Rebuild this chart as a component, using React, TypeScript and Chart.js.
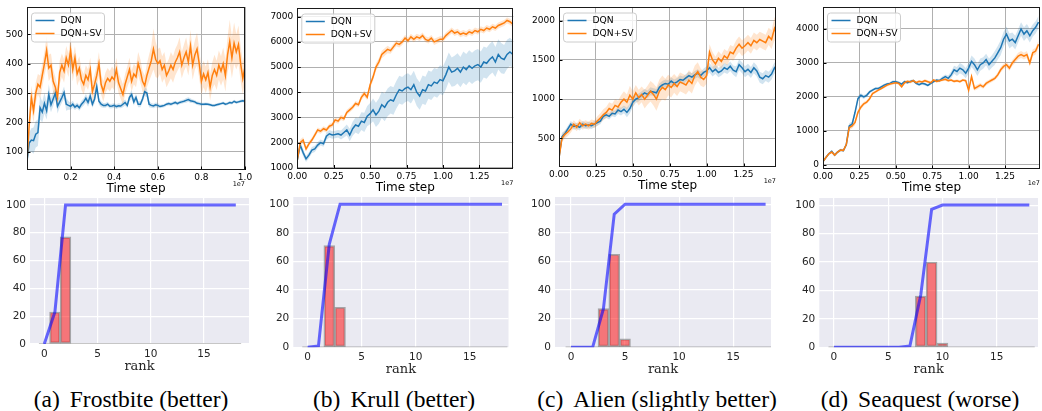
import React, { useEffect, useRef } from "react";
import { Chart, registerables } from "chart.js";

Chart.register(...registerables);

// ---------------- DATA ----------------
// x sample spacing (units of 1e7 time steps)
const FROST_STEP = 0.01;
const LONG_STEP = 0.02;

// (a) Frostbite, x = 0.00 .. 1.00
const FROST_DQN = [
  70, 130, 140, 138, 160, 165, 250, 235, 265, 240,
  295, 260, 280, 300, 255, 270, 285, 302, 262, 258,
  255, 262, 252, 258, 250, 262, 270, 282, 268, 290,
  262, 280, 322, 272, 262, 258, 258, 262, 255, 256,
  258, 254, 257, 256, 262, 268, 258, 285, 295, 270,
  285, 262, 262, 280, 305, 300, 262, 258, 256, 260,
  258, 254, 256, 258, 262, 264, 262, 265, 268, 264,
  268, 270, 272, 275, 278, 274, 272, 270, 265, 264,
  262, 262, 263, 262, 260, 258, 258, 260, 262, 264,
  266, 262, 264, 268, 266, 272, 268, 270, 272, 274,
  272,
];
const FROST_DQN_SD = [
  20, 35, 40, 45, 45, 45, 40, 35, 35, 30,
  35, 25, 25, 20, 25, 18, 18, 20, 22, 15,
  12, 12, 10, 10, 10, 12, 12, 15, 15, 18,
  12, 15, 20, 12, 10, 8, 8, 8, 8, 8,
  8, 8, 8, 8, 10, 10, 10, 12, 15, 12,
  12, 10, 10, 12, 15, 15, 10, 8, 8, 8,
  8, 6, 6, 6, 6, 6, 6, 6, 6, 6,
  6, 6, 6, 8, 8, 8, 6, 6, 6, 6,
  5, 5, 5, 5, 5, 5, 5, 5, 5, 5,
  5, 5, 5, 5, 5, 5, 5, 5, 5, 5,
  5,
];
const FROST_SV = [
  70, 190, 285, 240, 300, 330, 320, 360, 400, 445,
  385, 395, 340, 320, 285, 370, 395, 375, 420, 395,
  445, 380, 420, 365, 385, 345, 330, 360, 345, 380,
  305, 330, 360, 400, 330, 305, 335, 350, 340, 355,
  345, 380, 335, 315, 295, 330, 355, 380, 340, 365,
  355, 400, 375, 340, 325, 360, 385, 410, 450, 415,
  400, 410, 380, 395, 360, 375, 395, 380, 405, 420,
  440, 395, 420, 440, 405, 460, 395, 430, 450, 400,
  340, 365, 345, 370, 320, 360, 380, 360, 395, 375,
  400, 360, 430, 475, 420, 470, 440, 465, 400, 350,
  390,
];
const FROST_SV_SD = [
  10, 30, 40, 40, 35, 35, 40, 40, 40, 50,
  45, 40, 40, 35, 35, 40, 40, 40, 40, 40,
  45, 40, 40, 40, 40, 35, 35, 35, 35, 40,
  35, 35, 35, 40, 35, 35, 35, 35, 35, 35,
  35, 40, 35, 35, 35, 35, 35, 40, 35, 35,
  35, 40, 40, 35, 35, 40, 45, 50, 70, 60,
  50, 45, 45, 45, 40, 40, 45, 45, 45, 45,
  50, 45, 45, 50, 45, 55, 50, 50, 55, 50,
  45, 45, 45, 45, 45, 45, 50, 50, 50, 50,
  55, 55, 60, 75, 70, 70, 60, 65, 60, 55,
  50,
];

// (b) Krull, x = 0.00 .. 1.48
const KRULL_DQN = [
  1300, 1900, 1600, 1350, 1500, 1700, 1750, 1900, 2000, 1950,
  2250, 2350, 2300, 2320, 2350, 2300, 2400, 2500, 2300, 2550,
  2700, 2650, 2850, 2800, 3050, 3150, 3300, 3100, 3250, 3500,
  3400, 3600, 3700, 3650, 3900, 4100, 4050, 4150, 4200, 4100,
  4300, 4000, 3850, 4100, 4050, 4300, 4250, 4400, 4350, 4500,
  4450, 4700, 5000, 4800, 4850, 4950, 4800, 5000, 4900, 5050,
  4950, 5050, 5100, 5000, 5200, 5150, 5300, 5400, 5200, 5500,
  5350, 5300, 5500, 5600, 5500,
];
const KRULL_DQN_SD = [
  50, 150, 150, 120, 120, 120, 120, 120, 120, 120,
  150, 150, 150, 150, 150, 180, 200, 220, 250, 280,
  300, 320, 350, 380, 400, 420, 450, 480, 500, 520,
  550, 550, 550, 550, 550, 550, 550, 550, 550, 550,
  550, 550, 550, 560, 560, 560, 560, 560, 570, 570,
  570, 580, 580, 580, 600, 600, 600, 620, 620, 620,
  620, 620, 620, 620, 620, 620, 620, 620, 600, 600,
  600, 580, 580, 560, 550,
];
const KRULL_SV = [
  1300, 2000, 2100, 1750, 1950, 2100, 2300, 2500, 2450, 2550,
  2500, 2650, 2700, 2900, 2850, 3000, 2950, 3200, 3300, 3400,
  3550, 3500, 3800, 3950, 3800, 4300, 4600, 5000, 5200, 5500,
  5600, 5700, 5650, 5800, 5950, 5900, 6000, 6150, 6050, 6200,
  6100, 6200, 6150, 6250, 6100, 6050, 6150, 6000, 6050, 6100,
  6100, 6250, 6350, 6450, 6350, 6400, 6300, 6350, 6300, 6400,
  6350, 6450, 6400, 6500, 6450, 6550, 6500, 6600, 6550, 6650,
  6700, 6750, 6850, 6800, 6700,
];
const KRULL_SV_SD = [
  50, 120, 120, 100, 100, 100, 100, 100, 100, 100,
  100, 100, 100, 100, 100, 100, 100, 100, 100, 100,
  100, 100, 120, 120, 120, 130, 150, 150, 150, 150,
  150, 150, 120, 120, 120, 120, 120, 120, 120, 120,
  120, 120, 120, 120, 120, 120, 120, 120, 120, 120,
  120, 120, 120, 120, 120, 120, 120, 120, 120, 120,
  120, 120, 120, 120, 120, 120, 120, 120, 120, 120,
  120, 120, 120, 120, 120,
];

// (c) Alien, x = 0.00 .. 1.48
const ALIEN_DQN = [
  250, 520, 560, 620, 680, 650, 660, 640, 680, 660,
  670, 660, 680, 700, 720, 780, 800, 780, 820, 810,
  860, 840, 870, 830, 880, 960, 1000, 1020, 1050, 1080,
  1060, 1100, 1090, 1080, 1150, 1180, 1200, 1190, 1230, 1200,
  1220, 1250, 1240, 1270, 1300, 1280, 1310, 1330, 1300, 1340,
  1360, 1400, 1350, 1380, 1340, 1360, 1400, 1380, 1420, 1370,
  1350, 1440, 1400, 1350, 1380, 1340, 1400, 1360, 1280, 1260,
  1300, 1280, 1320, 1400, 1350,
];
const ALIEN_DQN_SD = [
  30, 50, 40, 40, 40, 40, 40, 40, 40, 40,
  40, 40, 40, 40, 40, 40, 40, 40, 40, 40,
  50, 50, 50, 60, 60, 60, 50, 50, 50, 50,
  50, 50, 50, 50, 50, 50, 50, 50, 50, 50,
  50, 50, 50, 50, 50, 50, 50, 50, 50, 50,
  60, 60, 60, 60, 60, 60, 60, 60, 60, 60,
  70, 70, 70, 70, 70, 70, 70, 70, 70, 70,
  70, 70, 70, 70, 70,
];
const ALIEN_SV = [
  250, 500, 550, 580, 620, 680, 640, 700, 660, 680,
  660, 690, 680, 720, 760, 800, 830, 880, 860, 920,
  900, 960, 1000, 960, 1050, 1000, 1080, 1020, 1060, 1000,
  1050, 1100, 1060, 1000, 1100, 1150, 1120, 1180, 1150, 1200,
  1160, 1220, 1200, 1180, 1240, 1200, 1300, 1350, 1280, 1250,
  1300, 1600, 1500, 1450, 1520, 1480, 1550, 1520, 1600, 1580,
  1650, 1700, 1650, 1680, 1720, 1680, 1750, 1720, 1760, 1740,
  1720, 1800, 1760, 1900, 1800,
];
const ALIEN_SV_SD = [
  30, 50, 50, 50, 50, 50, 50, 50, 50, 50,
  50, 50, 50, 60, 60, 70, 70, 80, 80, 80,
  80, 90, 100, 100, 120, 100, 100, 100, 100, 120,
  120, 130, 140, 150, 150, 150, 140, 130, 130, 120,
  120, 120, 120, 120, 130, 130, 130, 120, 110, 100,
  100, 100, 100, 90, 90, 90, 90, 90, 90, 90,
  100, 100, 100, 100, 100, 100, 100, 100, 100, 100,
  100, 110, 120, 150, 130,
];

// (d) Seaquest, x = 0.00 .. 1.48
const SEAQ_DQN = [
  100, 220, 330, 400, 290, 380, 440, 420, 600, 1150,
  1200, 1550, 1950, 2050, 2000, 2050, 2150, 2200, 2250, 2250,
  2300, 2350, 2380, 2400, 2450, 2450, 2420, 2380, 2450, 2420,
  2460, 2480, 2400, 2360, 2400, 2380, 2340, 2400, 2450, 2500,
  2480, 2550, 2600, 2550, 2650, 2800, 2750, 2850, 2800, 2700,
  2850, 3050, 2950, 2800, 2950, 3000, 3100, 2950, 3050, 3150,
  3300, 3450, 3700, 3850, 3650, 3700, 3600, 3800, 4000, 3850,
  3950, 3800, 3950, 4050, 4200,
];
const SEAQ_DQN_SD = [
  20, 30, 30, 40, 40, 40, 40, 40, 50, 80,
  80, 80, 80, 60, 60, 50, 50, 40, 40, 40,
  40, 40, 40, 40, 40, 40, 40, 40, 40, 40,
  40, 40, 40, 40, 40, 40, 40, 40, 40, 40,
  50, 60, 60, 80, 100, 120, 130, 150, 150, 150,
  160, 170, 180, 180, 180, 170, 170, 180, 180, 200,
  200, 220, 220, 220, 220, 200, 200, 200, 200, 200,
  200, 200, 180, 180, 180,
];
const SEAQ_SV = [
  100, 220, 330, 380, 290, 380, 440, 430, 600, 1100,
  1150, 1250, 1550, 1700, 1800, 1850, 1950, 2100, 2150, 2200,
  2250, 2300, 2350, 2380, 2400, 2420, 2400, 2300, 2420, 2460,
  2440, 2480, 2420, 2460, 2440, 2480, 2450, 2420, 2500, 2460,
  2480, 2500, 2520, 2480, 2500, 2460, 2480, 2450, 2500, 2480,
  2200, 2600, 2250, 2300, 2350, 2300, 2400, 2450, 2500, 2550,
  2650, 2800, 2900, 2950, 2850, 3000, 3100, 3200, 3250, 3200,
  3250, 3000, 3300, 3350, 3550,
];
const SEAQ_SV_SD = [
  20, 30, 30, 40, 40, 40, 40, 40, 50, 80,
  80, 80, 80, 70, 60, 50, 50, 40, 40, 40,
  40, 40, 40, 40, 40, 40, 40, 40, 40, 40,
  40, 40, 40, 40, 40, 40, 40, 40, 40, 40,
  40, 40, 40, 40, 40, 40, 40, 40, 40, 40,
  60, 70, 70, 70, 60, 60, 60, 60, 60, 60,
  70, 80, 80, 80, 80, 90, 90, 100, 100, 100,
  100, 100, 100, 100, 110,
];

// tick values / labels (top row)
const X_TICKS_FROST = [0.2, 0.4, 0.6, 0.8, 1.0];
const X_LABELS_FROST = ["0.2", "0.4", "0.6", "0.8", "1.0"];
const X_TICKS_LONG = [0, 0.25, 0.5, 0.75, 1.0, 1.25];
const X_LABELS_LONG = ["0.00", "0.25", "0.50", "0.75", "1.00", "1.25"];
const Y_TICKS_FROST = [100, 200, 300, 400, 500];
const Y_TICKS_KRULL = [1000, 2000, 3000, 4000, 5000, 6000, 7000];
const Y_TICKS_ALIEN = [500, 1000, 1500, 2000];
const Y_TICKS_SEAQ = [0, 1000, 2000, 3000, 4000];
const SERIES_NAMES = ["DQN", "DQN+SV"];

// bottom row: rank histograms (percent) and cumulative curves
const RANKS = [0, 1, 2, 3, 4, 5, 6, 7, 8, 9, 10, 11, 12, 13, 14, 15, 16, 17, 18];
const FROST_HIST = [0, 23, 77, 0, 0, 0, 0, 0, 0, 0, 0, 0, 0, 0, 0, 0, 0, 0, 0];
const FROST_CDF = [0, 23, 100, 100, 100, 100, 100, 100, 100, 100, 100, 100, 100, 100, 100, 100, 100, 100, 100];
const KRULL_HIST = [0, 0, 71, 28, 0, 0, 0, 0, 0, 0, 0, 0, 0, 0, 0, 0, 0, 0, 0];
const KRULL_CDF = [0, 1, 72, 100, 100, 100, 100, 100, 100, 100, 100, 100, 100, 100, 100, 100, 100, 100, 100];
const ALIEN_HIST = [0, 0, 0, 27, 65, 6, 0, 0, 0, 0, 0, 0, 0, 0, 0, 0, 0, 0, 0];
const ALIEN_CDF = [0, 0, 0, 27, 93, 100, 100, 100, 100, 100, 100, 100, 100, 100, 100, 100, 100, 100, 100];
const SEAQ_HIST = [0, 0, 0, 0, 0, 0, 0, 0, 36, 60, 3, 0, 0, 0, 0, 0, 0, 0, 0];
const SEAQ_CDF = [0, 0, 0, 0, 0, 0, 0, 1, 37, 97, 100, 100, 100, 100, 100, 100, 100, 100, 100];
const RANK_TICKS = [0, 5, 10, 15];
const PCT_TICKS = [0, 20, 40, 60, 80, 100];

const CAPTIONS = [
  ["(a)", "Frostbite (better)"],
  ["(b)", "Krull (better)"],
  ["(c)", "Alien (slightly better)"],
  ["(d)", "Seaquest (worse)"],
];

// ---------------- STYLE / LAYOUT ----------------
const BLUE = "#1f77b4";
const ORANGE = "#ff7f0e";
const SANS = "'DejaVu Sans'";

const TOP_PANELS = [
  { L: 27, R: 245, T: 7, B: 170, step: FROST_STEP, dqn: FROST_DQN, dqnSd: FROST_DQN_SD, sv: FROST_SV, svSd: FROST_SV_SD,
    yMin: 38, yMax: 593, yTicks: Y_TICKS_FROST, xMin: 0, xMax: 1.0, xTicks: X_TICKS_FROST, xLabels: X_LABELS_FROST },
  { L: 297.3, R: 513.3, T: 8, B: 168.5, step: LONG_STEP, dqn: KRULL_DQN, dqnSd: KRULL_DQN_SD, sv: KRULL_SV, svSd: KRULL_SV_SD,
    yMin: 970, yMax: 7345, yTicks: Y_TICKS_KRULL, xMin: 0, xMax: 1.483, xTicks: X_TICKS_LONG, xLabels: X_LABELS_LONG },
  { L: 559, R: 776, T: 7, B: 167, step: LONG_STEP, dqn: ALIEN_DQN, dqnSd: ALIEN_DQN_SD, sv: ALIEN_SV, svSd: ALIEN_SV_SD,
    yMin: 134, yMax: 2175, yTicks: Y_TICKS_ALIEN, xMin: 0, xMax: 1.47, xTicks: X_TICKS_LONG, xLabels: X_LABELS_LONG },
  { L: 823, R: 1040, T: 7, B: 169, step: LONG_STEP, dqn: SEAQ_DQN, dqnSd: SEAQ_DQN_SD, sv: SEAQ_SV, svSd: SEAQ_SV_SD,
    yMin: -118, yMax: 4647, yTicks: Y_TICKS_SEAQ, xMin: 0, xMax: 1.49, xTicks: X_TICKS_LONG, xLabels: X_LABELS_LONG },
];

const BOTTOM_PANELS = [
  { L: 30, R: 249, T: 198, B: 344, xMin: -1.34, xMax: 19.24, hist: FROST_HIST, cdf: FROST_CDF, cx: 131 },
  { L: 293.3, R: 508.5, T: 197, B: 347.3, xMin: -1.33, xMax: 18.6, hist: KRULL_HIST, cdf: KRULL_CDF, cx: 394 },
  { L: 555, R: 771, T: 197, B: 347.3, xMin: -1.48, xMax: 18.5, hist: ALIEN_HIST, cdf: ALIEN_CDF, cx: 657 },
  { L: 819.3, R: 1038, T: 198, B: 347.3, xMin: -1.35, xMax: 18.8, hist: SEAQ_HIST, cdf: SEAQ_CDF, cx: 920 },
];

function pts(vals: number[], step: number, sd?: number[], sign = 0) {
  return vals.map((v, i) => ({ x: i * step, y: sd ? v + sign * sd[i] : v }));
}

function topGeometry(p: any) {
  const cl = Math.floor(p.L) - 42;
  const cr = Math.min(1042, Math.ceil(p.R) + 12);
  const h = Math.ceil(p.B) + 32;
  return { left: cl, top: 0, width: cr - cl, height: h, yw: p.L - cl, xh: h - p.B, rp: cr - p.R };
}

function topConfig(p: any) {
  const g = topGeometry(p);
  const decor = {
    id: "topDecor",
    afterDraw(chart: any) {
      const { ctx, chartArea: a, scales } = chart;
      ctx.save();
      ctx.strokeStyle = "#000";
      ctx.lineWidth = 1;
      ctx.beginPath();
      for (const t of scales.y.ticks) {
        const y = Math.round(scales.y.getPixelForValue(t.value)) + 0.5;
        ctx.moveTo(a.left, y);
        ctx.lineTo(a.left + 3.5, y);
      }
      for (const t of scales.x.ticks) {
        const x = Math.round(scales.x.getPixelForValue(t.value)) + 0.5;
        ctx.moveTo(x, a.bottom);
        ctx.lineTo(x, a.bottom - 3.5);
      }
      ctx.stroke();
      ctx.strokeStyle = "#1a1a1a";
      ctx.strokeRect(Math.round(a.left) + 0.5, Math.round(a.top) + 0.5, Math.round(a.width) - 1, Math.round(a.height) - 1);
      // legend
      const bx = a.left + 4.5, by = a.top + 6, bw = 73, bh = 29;
      ctx.beginPath();
      ctx.roundRect(bx, by, bw, bh, 3);
      ctx.fillStyle = "rgba(255,255,255,0.8)";
      ctx.fill();
      ctx.strokeStyle = "#cccccc";
      ctx.lineWidth = 1;
      ctx.stroke();
      const cols = [BLUE, ORANGE];
      ctx.font = `9.2px ${SANS}`;
      ctx.textBaseline = "middle";
      ctx.textAlign = "left";
      SERIES_NAMES.forEach((name, i) => {
        const y = by + 7.5 + i * 13;
        ctx.strokeStyle = cols[i];
        ctx.lineWidth = 1.5;
        ctx.beginPath();
        ctx.moveTo(bx + 4, y);
        ctx.lineTo(bx + 23, y);
        ctx.stroke();
        ctx.fillStyle = "#000";
        ctx.fillText(name, bx + 29, y + 0.5);
      });
      // axis texts
      ctx.fillStyle = "#000";
      ctx.textAlign = "center";
      ctx.font = `12px ${SANS}`;
      ctx.fillText("Time step", (a.left + a.right) / 2, a.bottom + 19);
      ctx.textAlign = "right";
      ctx.font = `6.5px ${SANS}`;
      ctx.fillText("1e7", a.right, a.bottom + 14.5);
      ctx.restore();
    },
  };
  const band = { borderColor: "rgba(0,0,0,0)", borderWidth: 0, pointRadius: 0 };
  return {
    type: "line",
    data: {
      datasets: [
        { data: pts(p.sv, p.step), borderColor: ORANGE, borderWidth: 1.5, pointRadius: 0, fill: false, order: 0 },
        { data: pts(p.dqn, p.step), borderColor: BLUE, borderWidth: 1.5, pointRadius: 0, fill: false, order: 1 },
        { ...band, data: pts(p.sv, p.step, p.svSd, -1), fill: false, order: 2 },
        { ...band, data: pts(p.sv, p.step, p.svSd, 1), fill: "-1", backgroundColor: "rgba(255,127,14,0.2)", order: 3 },
        { ...band, data: pts(p.dqn, p.step, p.dqnSd, -1), fill: false, order: 4 },
        { ...band, data: pts(p.dqn, p.step, p.dqnSd, 1), fill: "-1", backgroundColor: "rgba(31,119,180,0.2)", order: 5 },
      ],
    },
    options: {
      responsive: false,
      animation: false,
      devicePixelRatio: 1,
      events: [],
      layout: { padding: { top: p.T, right: g.rp, left: 0, bottom: 0 } },
      plugins: { legend: { display: false }, tooltip: { enabled: false } },
      scales: {
        x: {
          type: "linear",
          min: p.xMin,
          max: p.xMax,
          border: { display: false },
          grid: { color: "#b0b0b0", lineWidth: 1, drawTicks: false },
          afterBuildTicks: (s: any) => { s.ticks = p.xTicks.map((v: number) => ({ value: v })); },
          afterFit: (s: any) => { s.height = g.xh; s.paddingLeft = 0; s.paddingRight = 0; },
          ticks: {
            autoSkip: false, maxRotation: 0, padding: 2.5, color: "#000",
            font: { family: SANS, size: 9 },
            callback: (_v: any, i: number) => p.xLabels[i],
          },
        },
        y: {
          type: "linear",
          min: p.yMin,
          max: p.yMax,
          border: { display: false },
          grid: { color: "#b0b0b0", lineWidth: 1, drawTicks: false },
          afterBuildTicks: (s: any) => { s.ticks = p.yTicks.map((v: number) => ({ value: v })); },
          afterFit: (s: any) => { s.width = g.yw; s.paddingTop = 0; s.paddingBottom = 0; },
          ticks: {
            autoSkip: false, padding: 4, color: "#000",
            font: { family: SANS, size: 9 },
            callback: (v: any) => String(v),
          },
        },
      },
    },
    plugins: [decor],
  };
}

function bottomGeometry(p: any) {
  const cl = Math.floor(p.L) - 36;
  const cr = Math.min(1042, Math.ceil(p.R) + 2);
  return { left: cl, top: 190, width: cr - cl, height: 192, yw: p.L - cl, xh: 382 - p.B, rp: cr - p.R };
}

function bottomConfig(p: any) {
  const g = bottomGeometry(p);
  const decor = {
    id: "bottomDecor",
    beforeDraw(chart: any) {
      const { ctx, chartArea: a } = chart;
      ctx.save();
      ctx.fillStyle = "#EAEAF2";
      ctx.fillRect(a.left, a.top, a.width, a.height);
      ctx.restore();
    },
    afterDraw(chart: any) {
      const { ctx, chartArea: a } = chart;
      ctx.save();
      ctx.fillStyle = "#262626";
      ctx.textAlign = "center";
      ctx.textBaseline = "middle";
      ctx.font = "13px 'DejaVu Serif'";
      ctx.fillText("rank", (a.left + a.right) / 2, a.bottom + 22.5);
      ctx.restore();
    },
  };
  const edge = [
    { x: RANKS[0] - 0.5, y: 0 },
    { x: RANKS[RANKS.length - 1] + 0.5, y: 0 },
  ];
  return {
    type: "bar",
    data: {
      datasets: [
        { type: "line", data: RANKS.map((r, i) => ({ x: r, y: p.cdf[i] })), borderColor: "rgba(0,0,255,0.58)",
          borderWidth: 3, pointRadius: 0, fill: false, order: 0 },
        { type: "bar", data: RANKS.map((r, i) => ({ x: r, y: p.hist[i] })), backgroundColor: "rgba(255,0,0,0.5)",
          borderColor: "rgba(128,128,128,0.65)", borderWidth: 1.5, borderSkipped: false,
          barPercentage: 1, categoryPercentage: 1, order: 1 },
        { type: "line", data: edge, borderColor: "rgba(128,128,128,0.6)", borderWidth: 1.5, pointRadius: 0, fill: false, order: 2 },
      ],
    },
    options: {
      responsive: false,
      animation: false,
      devicePixelRatio: 1,
      events: [],
      layout: { padding: { top: p.T - 190, right: g.rp, left: 0, bottom: 0 } },
      plugins: { legend: { display: false }, tooltip: { enabled: false } },
      scales: {
        x: {
          type: "linear",
          min: p.xMin,
          max: p.xMax,
          offset: false,
          border: { display: false },
          grid: { color: "#ffffff", lineWidth: 1.2, drawTicks: false, offset: false },
          afterBuildTicks: (s: any) => { s.ticks = RANK_TICKS.map((v) => ({ value: v })); },
          afterFit: (s: any) => { s.height = g.xh; s.paddingLeft = 0; s.paddingRight = 0; },
          ticks: { autoSkip: false, maxRotation: 0, padding: 3.5, color: "#262626", font: { family: SANS, size: 10.5 },
            callback: (v: any) => String(v) },
        },
        y: {
          type: "linear",
          min: 0,
          max: 105,
          border: { display: false },
          grid: { color: "#ffffff", lineWidth: 1.2, drawTicks: false },
          afterBuildTicks: (s: any) => { s.ticks = PCT_TICKS.map((v) => ({ value: v })); },
          afterFit: (s: any) => { s.width = g.yw; s.paddingTop = 0; s.paddingBottom = 0; },
          ticks: { autoSkip: false, padding: 4, color: "#262626", font: { family: SANS, size: 10.5 },
            callback: (v: any) => String(v) },
        },
      },
    },
    plugins: [decor],
  };
}

function ChartBox({ geom, build }: { geom: any; build: () => any }) {
  const ref = useRef<HTMLCanvasElement | null>(null);
  useEffect(() => {
    const chart = new Chart(ref.current as HTMLCanvasElement, build());
    return () => chart.destroy();
  }, []);
  return (
    <canvas
      ref={ref}
      width={geom.width}
      height={geom.height}
      style={{ position: "absolute", left: geom.left, top: geom.top, width: geom.width, height: geom.height }}
    />
  );
}

export default function App() {
  return (
    <div style={{ position: "absolute", left: 0, top: 0, width: 1042, height: 411, overflow: "hidden", background: "#fff" }}>
      {TOP_PANELS.map((p, i) => (
        <ChartBox key={"t" + i} geom={topGeometry(p)} build={() => topConfig(p)} />
      ))}
      {BOTTOM_PANELS.map((p, i) => (
        <ChartBox key={"b" + i} geom={bottomGeometry(p)} build={() => bottomConfig(p)} />
      ))}
      {BOTTOM_PANELS.map((p, i) => (
        <div
          key={"c" + i}
          style={{
            position: "absolute", left: p.cx - 140, width: 280, top: 386, textAlign: "center",
            fontFamily: "'Liberation Serif', serif", fontSize: 23.5, lineHeight: "27px", color: "#000", whiteSpace: "nowrap",
          }}
        >
          <span style={{ marginRight: 10 }}>{CAPTIONS[i][0]}</span>
          {CAPTIONS[i][1]}
        </div>
      ))}
    </div>
  );
}
